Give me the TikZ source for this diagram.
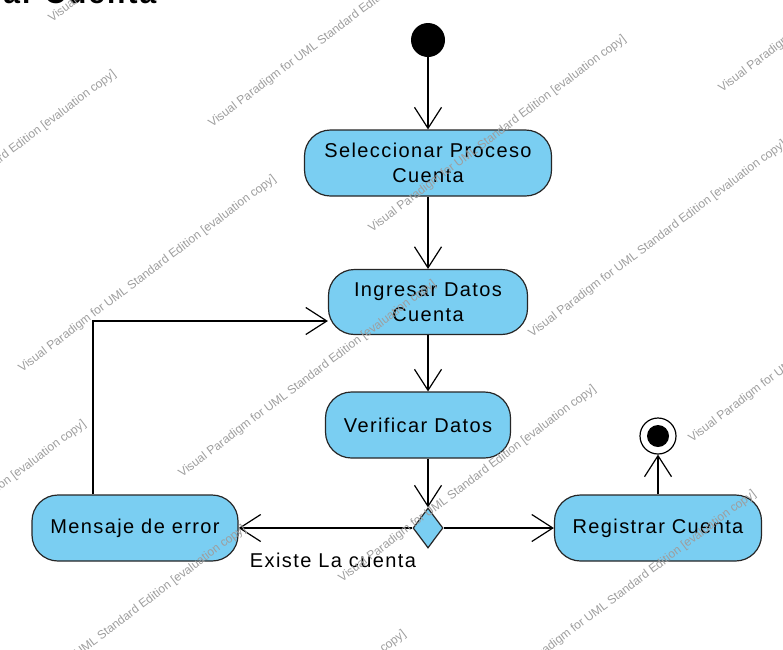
\documentclass[tikz,border=0pt]{standalone}
\usepackage{fontspec}
\setmainfont{Liberation Sans}[LetterSpace=7.0]
\newfontfamily\wmfont{Liberation Sans}
\usetikzlibrary{arrows.meta,shapes.geometric}
\definecolor{actblue}{RGB}{122,206,242}

\begin{document}
\begin{tikzpicture}[x=1pt,y=-1pt,
    action/.style={draw=black!85,fill=actblue,line width=1.2pt,rounded corners=26pt,
      minimum height=66pt,inner sep=0pt,align=center,font=\fontsize{20}{25}\selectfont},
    flow/.style={line width=1.2pt,-{Straight Barb[length=21pt,width=27pt,line width=1.2pt]}},
    wmark/.style={black!38,rotate=37,anchor=west,inner sep=0pt,font=\wmfont\fontsize{12}{14}\selectfont}]

        \useasboundingbox (0,0) rectangle (783,649);

        \node[anchor=base east,font=\bfseries\fontsize{30}{30}\selectfont] (title) at (160,3) {ar Cuenta};

        \node[circle,fill=black,minimum size=34pt,inner sep=0pt] (ini) at (428,40) {};
        \node[action,minimum width=247pt] (sel) at (428,163) {Seleccionar Proceso\\Cuenta};
        \node[action,minimum width=199pt,minimum height=65pt] (ing) at (428,302) {Ingresar Datos\\Cuenta};
        \node[action,minimum width=185pt] (ver) at (418,425) {Verificar Datos};
        \node[diamond,draw=black!85,fill=actblue,line width=1.2pt,minimum width=30pt,
              minimum height=40pt,inner sep=0pt] (dec) at (428,528) {};
        \node[action,minimum width=206pt] (err) at (135,528) {Mensaje de error};
        \node[action,minimum width=207pt] (reg) at (658,528) {Registrar Cuenta};
        \node[circle,draw=black,line width=1.2pt,fill=white,minimum size=36pt,inner sep=0pt] (fin) at (658,436) {};
        \fill (fin) circle (11pt);
        \node[font=\fontsize{20}{22}\selectfont] (cond) at (333,560) {Existe La cuenta};
        \coordinate (back) at (93,321);

        \draw[flow] (ini) -- (ini |- sel.north);
        \draw[flow] (sel) -- (ing);
        \draw[flow] (ing) -- (ing |- ver.north);
        \draw[flow] (dec |- ver.south) -- (dec.north);
        \draw[flow] (dec.west) -- (err.east);
        \draw[flow] (err.north -| back) -- (back) -- (back -| ing.west);
        \draw[flow] (dec.east) -- (reg.west);
        \draw[flow] (reg.north -| fin) -- (fin.south);

        \foreach \i in {-4,...,4}
            \foreach \j in {-2,...,3}
                \node[wmark] at (20+160*\i+350*\j, 370+105*\i-140*\j)
                    {Visual Paradigm for UML Standard Edition [evaluation copy]};

\end{tikzpicture}
\end{document}
